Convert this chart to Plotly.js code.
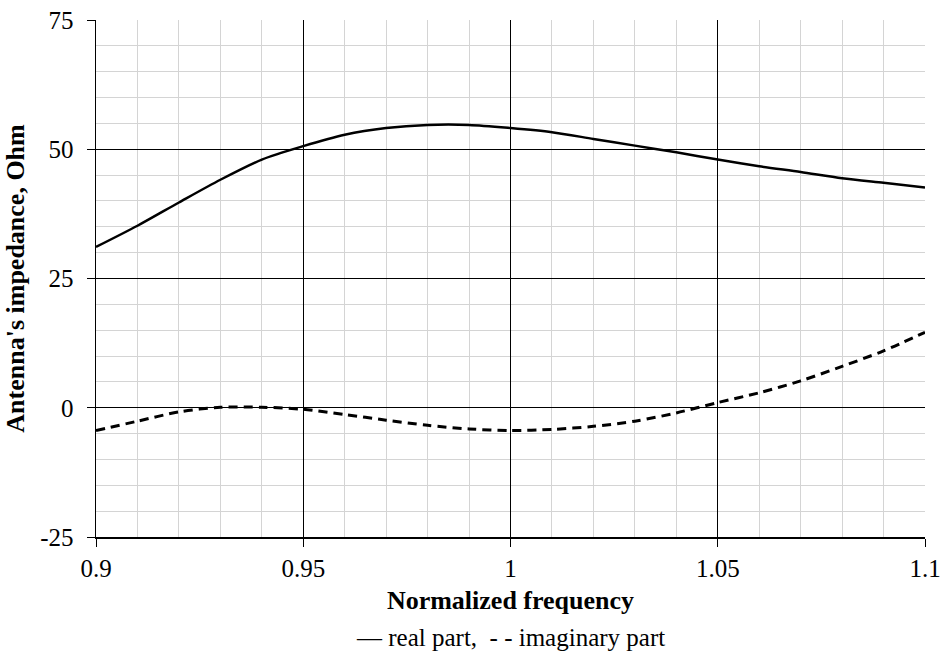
<!DOCTYPE html>
<html>
<head>
<meta charset="utf-8">
<script src="https://cdn.plot.ly/plotly-3.0.1.min.js"></script>
<style>html,body{margin:0;padding:0;background:#fff;}#chart{width:943px;height:653px;}</style>
</head>
<body>
<div id="chart"></div>
<script>
var freq = [0.90,0.91,0.92,0.93,0.94,0.95,0.96,0.97,0.98,0.99,1.00,1.01,1.02,1.03,1.04,1.05,1.06,1.07,1.08,1.09,1.10];
var realPart = [31.1,35.2,39.7,44.1,48.0,50.6,52.8,54.1,54.7,54.7,54.1,53.3,52.0,50.7,49.4,48.0,46.7,45.6,44.4,43.5,42.6];
var imagPart = [-4.4,-2.6,-0.8,0.1,0.1,-0.3,-1.3,-2.4,-3.4,-4.1,-4.4,-4.2,-3.6,-2.6,-1.0,1.0,2.9,5.2,8.0,11.0,14.6];
var xTicks = [0.9,0.95,1,1.05,1.1];
var xTickText = ["0.9","0.95","1","1.05","1.1"];
var yTicks = [-25,0,25,50,75];
var yTickText = ["-25","0","25","50","75"];
var xTitle = "Normalized frequency";
var yTitle = "Antenna's impedance, Ohm";
var legendText = "— real part,  - - imaginary part";

var font = "Times New Roman, Liberation Serif, DejaVu Serif, serif";
var traces = [
  {x: freq, y: realPart, mode: "lines", line: {color: "#000", width: 2.5, shape: "spline", smoothing: 0.8}, name: "real part"},
  {x: freq, y: imagPart, mode: "lines", line: {color: "#000", width: 3, dash: "9px,6px", shape: "spline", smoothing: 0.8}, name: "imaginary part"}
];
var layout = {
  width: 943, height: 653,
  margin: {l: 96, r: 18, t: 20, b: 116},
  paper_bgcolor: "#fff", plot_bgcolor: "#fff",
  showlegend: false,
  font: {family: font, color: "#000", size: 25},
  xaxis: {
    range: [0.9, 1.1], tickvals: xTicks, ticktext: xTickText,
    showgrid: true, gridcolor: "#000", gridwidth: 1,
    minor: {dtick: 0.01, showgrid: true, gridcolor: "#d4d4d4", gridwidth: 1},
    showline: true, linecolor: "#000", linewidth: 1.5, mirror: false,
    ticks: "outside", ticklen: 8, tickcolor: "#000", tickwidth: 1,
    zeroline: false,
    tickfont: {family: font, size: 25, color: "#000"},
    title: {text: xTitle, font: {family: font, size: 26, color: "#000", weight: "bold"}, standoff: 10}
  },
  yaxis: {
    range: [-25, 75], tickvals: yTicks, ticktext: yTickText,
    showgrid: true, gridcolor: "#000", gridwidth: 1,
    minor: {dtick: 5, showgrid: true, gridcolor: "#d4d4d4", gridwidth: 1},
    showline: true, linecolor: "#000", linewidth: 1.5,
    ticks: "outside", ticklen: 8, tickcolor: "#000", tickwidth: 1,
    ticklabelstandoff: 8,
    zeroline: false,
    tickfont: {family: font, size: 25, color: "#000"},
    title: {text: yTitle, font: {family: font, size: 26, color: "#000", weight: "bold"}, standoff: 8}
  },
  annotations: [
    {text: legendText, xref: "paper", yref: "paper", x: 0.5, y: -0.195, yanchor: "middle", xanchor: "center",
     showarrow: false, font: {family: font, size: 25, color: "#000"}}
  ]
};
Plotly.newPlot("chart", traces, layout, {displayModeBar: false, staticPlot: true});
</script>
</body>
</html>
